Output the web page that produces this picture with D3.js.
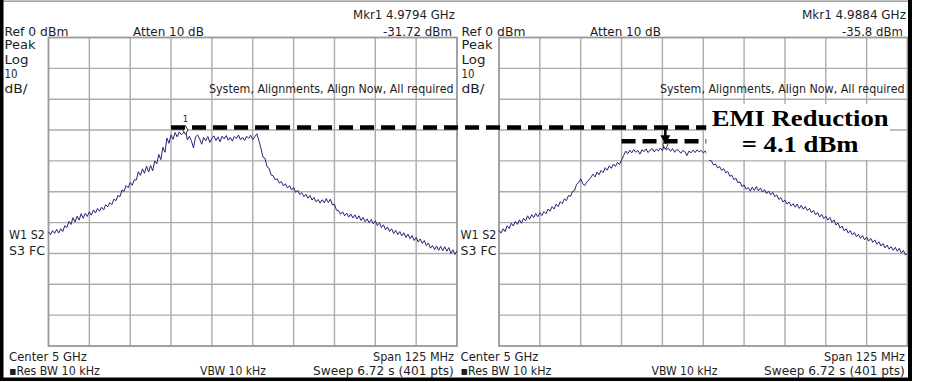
<!DOCTYPE html>
<html><head><meta charset="utf-8">
<script src="https://cdn.jsdelivr.net/npm/d3@7"></script>
<style>html,body{margin:0;padding:0;background:#fff;} svg{display:block;}</style>
</head><body><svg id="c" width="926" height="382"></svg>
<script>
// ---------- data ----------
const centerGHz = 5.0;
const spanGHz = 0.125;
const refLevelDbm = 0;
const dbPerDiv = 10;
const numDivs = 10;

// trace values (dBm), equally spaced across the span
const traceLeft = [
 -63.0,-63.9,-62.6,-63.5,-62.2,-63.4,-62.0,-62.9,-61.0,-61.6,
 -59.6,-60.6,-58.4,-59.8,-57.9,-59.2,-57.1,-58.6,-57.0,-58.0,
 -56.5,-57.6,-55.9,-56.9,-55.4,-56.3,-55.0,-55.9,-54.2,-54.9,
 -53.5,-54.2,-52.4,-52.9,-51.2,-51.6,-49.4,-49.9,-48.0,-48.7,
 -47.0,-47.9,-46.1,-46.2,-43.5,-44.7,-42.6,-44.0,-41.7,-43.6,
 -41.5,-43.2,-40.0,-41.0,-37.9,-39.6,-35.6,-37.2,-32.6,-34.3,
 -31.6,-33.0,-30.8,-32.2,-30.6,-31.5,-30.9,-30.0,-33.2,-32.0,
 -33.6,-35.8,-32.2,-31.6,-32.9,-34.6,-32.4,-33.5,-32.1,-34.0,
 -32.6,-31.9,-33.4,-32.2,-33.8,-32.0,-32.9,-31.8,-33.3,-32.4,
 -33.6,-32.1,-32.8,-31.6,-33.2,-32.3,-33.4,-32.0,-32.7,-31.7,
 -33.1,-32.2,-31.2,-33.4,-35.9,-38.8,-39.2,-41.9,-42.4,-44.6,
 -44.8,-46.1,-45.8,-47.2,-46.7,-48.1,-47.4,-48.8,-48.0,-49.4,
 -48.6,-50.2,-49.5,-50.9,-50.3,-51.6,-50.8,-52.1,-51.2,-52.7,
 -51.9,-53.3,-52.5,-53.7,-52.6,-53.6,-52.2,-53.5,-52.4,-54.3,
 -54.0,-56.0,-56.1,-57.3,-56.5,-57.8,-56.9,-58.2,-57.2,-58.5,
 -57.5,-58.8,-57.8,-59.3,-58.3,-59.7,-58.8,-60.1,-59.0,-60.4,
 -59.4,-61.0,-60.0,-61.6,-60.7,-62.3,-61.4,-62.9,-62.0,-63.5,
 -62.5,-63.9,-62.9,-64.3,-63.3,-64.8,-63.7,-65.2,-64.2,-65.8,
 -64.8,-66.3,-65.3,-66.8,-65.8,-67.5,-66.6,-68.3,-67.4,-68.8,
 -67.6,-69.0,-67.7,-69.1,-67.8,-69.3,-68.1,-70.0,-68.8,-70.3,
 -69.2
];
const traceRight = [
 -62.5,-63.4,-62.0,-62.9,-61.0,-61.9,-60.2,-61.1,-59.6,-60.6,
 -59.1,-60.2,-58.6,-59.4,-57.8,-58.9,-57.4,-58.4,-57.0,-58.1,
 -56.8,-57.7,-56.4,-57.1,-55.6,-56.3,-54.8,-55.6,-54.0,-54.8,
 -53.2,-53.9,-52.3,-52.9,-51.2,-51.5,-49.9,-49.6,-47.6,-47.0,
 -45.8,-47.4,-48.0,-46.8,-46.2,-45.3,-44.3,-45.2,-43.6,-44.5,
 -43.1,-43.8,-42.2,-43.0,-41.6,-42.4,-41.0,-41.8,-40.5,-41.2,
 -39.7,-38.3,-36.8,-37.7,-36.5,-37.4,-36.3,-37.2,-36.6,-37.8,
 -36.4,-37.0,-36.1,-37.3,-36.5,-36.0,-37.1,-36.2,-36.8,-35.8,
 -36.7,-34.8,-36.4,-35.9,-36.9,-36.0,-37.2,-36.3,-36.7,-37.5,
 -36.6,-37.0,-38.3,-36.8,-37.4,-36.5,-37.3,-36.4,-37.1,-36.6,
 -37.4,-36.8,-38.2,-39.8,-40.0,-41.3,-41.0,-42.3,-41.8,-43.1,
 -42.5,-43.9,-43.4,-45.0,-44.6,-46.1,-45.6,-47.1,-46.8,-48.3,
 -47.8,-49.2,-48.6,-49.8,-48.5,-49.6,-48.3,-49.7,-48.8,-50.1,
 -49.3,-50.6,-49.8,-51.0,-50.2,-51.6,-51.0,-52.5,-51.9,-53.3,
 -52.7,-54.0,-53.3,-54.6,-53.9,-55.0,-54.0,-55.4,-54.4,-55.7,
 -54.8,-56.1,-55.4,-56.8,-56.0,-57.5,-56.7,-58.2,-57.3,-58.7,
 -57.9,-59.2,-58.3,-59.9,-59.1,-60.8,-60.1,-61.8,-61.1,-62.7,
 -62.0,-63.4,-62.6,-64.0,-63.2,-64.6,-63.8,-65.1,-64.2,-65.6,
 -64.7,-66.0,-65.1,-66.4,-65.6,-67.0,-66.2,-67.6,-66.8,-68.2,
 -67.3,-68.6,-67.8,-69.0,-68.0,-69.3,-68.3,-69.9,-69.0,-70.5,
 -70.0
];
const markerFreqGHz = [4.9794, 4.9884];
const markerFreqText = ["Mkr1  4.9794 GHz", "Mkr1  4.9884 GHz"];
const markerLevelText = ["-31.72 dBm", "-35.8 dBm"];
const refText = "Ref 0 dBm";
const attenText = "Atten 10 dB";
const scaleLines = ["Peak", "Log", "10", "dB/"];
const alignText = "System, Alignments, Align Now, All required";
const modeLines = ["W1  S2", "S3  FC"];
const centerText = "Center 5 GHz";
const spanText = "Span 125 MHz";
const resBwText = "\u25AARes BW 10 kHz";
const vbwText = "VBW 10 kHz";
const sweepText = "Sweep 6.72 s (401 pts)";
// annotation
const peakLevelBefore = -29.2;   // upper dashed reference level
const peakLevelAfter = -33.6;    // lower dashed reference level
const annotStartGHz = 4.975;
const annotEndGHz = 5.0;
const emiLines = ["EMI Reduction", "= 4.1 dBm"];

// ---------- layout ----------
const svg = d3.select("#c");
const gy0 = 37.5, gy1 = 346;
const panels = [
  {trace: traceLeft, gx0: 48.5, gx1: 457, tx: 4.5, bx: 9, right: 454, idx: 0},
  {trace: traceRight, gx0: 499, gx1: 907.5, tx: 461.5, bx: 460.5, right: 905, idx: 1}
];
const startGHz = centerGHz - spanGHz / 2, stopGHz = centerGHz + spanGHz / 2;
const y = d3.scaleLinear().domain([refLevelDbm - dbPerDiv * numDivs, refLevelDbm]).range([gy1, gy0]);
const font = "'DejaVu Sans', sans-serif";
const txtCol = "#1e1e1e";

// text squeezed horizontally to a measured width (true bbox via transform)
function label(text, x, yb, w, anchor, size, family, weight) {
  const t = svg.append("text").attr("x", 0).attr("y", 0)
    .attr("font-family", family || font).attr("font-size", size || 12)
    .attr("font-weight", weight || "normal").attr("fill", txtCol).text(text);
  const nat = t.node().getComputedTextLength() || w;
  const sx = w / nat;
  const left = anchor === "end" ? x - w : anchor === "middle" ? x - w / 2 : x;
  t.attr("transform", `translate(${left},${yb}) scale(${sx},1)`);
  return t;
}

panels.forEach(p => {
  p.x = d3.scaleLinear().domain([startGHz, stopGHz]).range([p.gx0, p.gx1]);
  const dx = d3.scaleLinear().domain([0, numDivs]).range([p.gx0, p.gx1]);
  const dy = d3.scaleLinear().domain([0, numDivs]).range([gy0, gy1]);
  const g = svg.append("g");
  // grid
  d3.range(1, numDivs).forEach(i => {
    g.append("line").attr("x1", dx(i)).attr("x2", dx(i))
      .attr("y1", gy0).attr("y2", gy1).attr("stroke", "#ababab").attr("stroke-width", 1.4);
    g.append("line").attr("y1", dy(i)).attr("y2", dy(i))
      .attr("x1", p.gx0).attr("x2", p.gx1).attr("stroke", "#ababab").attr("stroke-width", 1.4);
  });
  g.append("rect").attr("x", p.gx0).attr("y", gy0).attr("width", p.gx1 - p.gx0).attr("height", gy1 - gy0)
    .attr("fill", "none").attr("stroke", "#9a9a9a").attr("stroke-width", 1.8);
  // trace
  const n = p.trace.length;
  const fx = i => startGHz + i * (stopGHz - startGHz) / (n - 1);
  g.append("path").datum(p.trace)
    .attr("d", d3.line().x((d, i) => p.x(fx(i))).y(d => y(d)))
    .attr("fill", "none").attr("stroke", "#24247a").attr("stroke-width", 1);
  // marker
  const mi = Math.round((markerFreqGHz[p.idx] - startGHz) / (stopGHz - startGHz) * (n - 1));
  p.mx = p.x(markerFreqGHz[p.idx]);
  p.my = y(p.trace[mi]);
  g.append("path").attr("d", d3.symbol(d3.symbolDiamond, 22)())
    .attr("transform", `translate(${p.mx},${p.my})`)
    .attr("fill", "#fff").attr("stroke", "#333").attr("stroke-width", 1);

  // texts
  const o = p.tx;
  label(markerFreqText[p.idx], p.right + 1, 18.5, p.idx ? 104 : 102, "end");
  label(refText, o, 36, 64);
  label(attenText, o + 128.5, 36, 71);
  label(markerLevelText[p.idx], p.right - 2, 36, p.idx ? 61 : 69, "end");
  const sb = [49, 63.5, 78, 93];
  const sw = [31, 24, 13, 23];
  scaleLines.forEach((s, i) => label(s, o, sb[i], sw[i], "start", 11.5));
  label(alignText, p.right, 93, 245, "end");
  label(modeLines[0], p.bx, 238.5, 36);
  label(modeLines[1], p.bx, 255, 36);
  label(centerText, p.bx, 361, 78);
  label(resBwText, p.bx, 374.5, 91);
  label(spanText, p.right, 361, 81, "end");
  label(vbwText, p.bx + 191, 374.5, 66);
  label(sweepText, p.right, 374.5, 141, "end");
});

// marker "1" label on the left panel
svg.append("text").attr("x", panels[0].mx).attr("y", panels[0].my - 8)
  .attr("text-anchor", "middle").attr("font-family", font).attr("font-size", 8.5).attr("fill", txtCol).text("1");

// dashed reference levels
const L = panels[0], R = panels[1];
svg.append("line").attr("x1", L.x(annotStartGHz)).attr("x2", R.x(annotEndGHz) + 4)
  .attr("y1", y(peakLevelBefore)).attr("y2", y(peakLevelBefore))
  .attr("stroke", "#000").attr("stroke-width", 4.5).attr("stroke-dasharray", "14,7");
svg.append("line").attr("x1", R.x(annotStartGHz)).attr("x2", R.x(annotEndGHz) + 4)
  .attr("y1", y(peakLevelAfter)).attr("y2", y(peakLevelAfter))
  .attr("stroke", "#000").attr("stroke-width", 4.5).attr("stroke-dasharray", "14,7");
// arrow
const ax = R.x(markerFreqGHz[1]);
svg.append("line").attr("x1", ax).attr("x2", ax).attr("y1", y(peakLevelBefore)).attr("y2", y(peakLevelAfter) - 5)
  .attr("stroke", "#000").attr("stroke-width", 2.5);
svg.append("path").attr("d", `M${ax - 5},${y(peakLevelAfter) - 6}L${ax + 5},${y(peakLevelAfter) - 6}L${ax},${y(peakLevelAfter) + 3}Z`)
  .attr("fill", "#000");

// EMI box
const bx0 = R.x(annotEndGHz) + 3, bx1 = 890;
svg.append("rect").attr("x", bx0).attr("y", 104).attr("width", bx1 - bx0).attr("height", 56).attr("fill", "#fff");
const cx = (bx0 + bx1) / 2 + 2;
const serif = "'Liberation Serif', 'Times New Roman', serif";
label(emiLines[0], cx, 126, 177, "middle", 22.5, serif, "bold").attr("fill", "#000");
label(emiLines[1], cx, 152, 117, "middle", 22.5, serif, "bold").attr("fill", "#000");

// outer frame
svg.append("line").attr("x1", 0).attr("x2", 912).attr("y1", 1.2).attr("y2", 1.2).attr("stroke", "#8a8a8a").attr("stroke-width", 1.2);
svg.append("rect").attr("x", 0).attr("y", 0).attr("width", 3.5).attr("height", 381).attr("fill", "#000");
svg.append("rect").attr("x", 908).attr("y", 0).attr("width", 4).attr("height", 381).attr("fill", "#000");
svg.append("rect").attr("x", 0).attr("y", 377.5).attr("width", 912).attr("height", 3.5).attr("fill", "#000");
</script></body></html>
